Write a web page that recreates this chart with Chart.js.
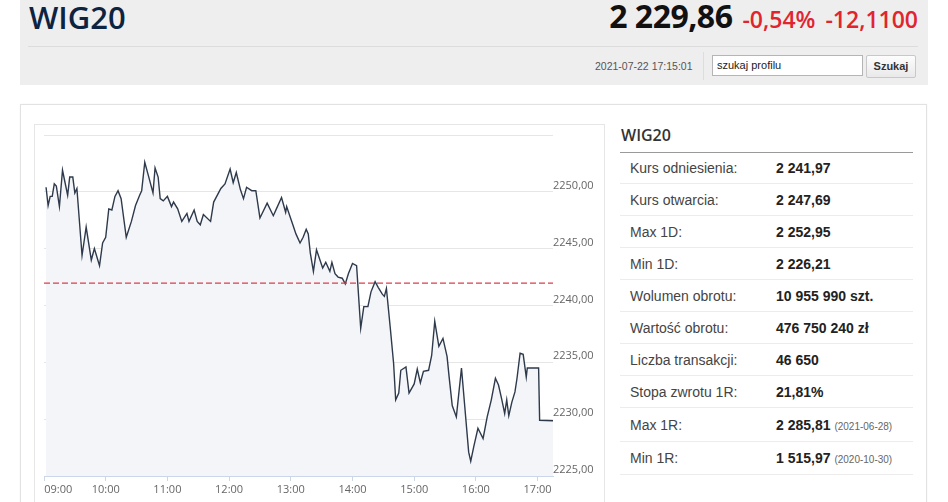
<!DOCTYPE html>
<html lang="pl">
<head>
<meta charset="utf-8">
<title>WIG20</title>
<script src="https://cdn.jsdelivr.net/npm/chart.js@4.4.1/dist/chart.umd.min.js"></script>
<style>
  html, body { margin: 0; padding: 0; background: #fff; width: 948px; height: 502px; overflow: hidden; }
  body { position: relative; font-family: "Liberation Sans", Arial, sans-serif; }

  .top { position: absolute; left: 20px; top: 0; width: 908px; height: 85px; background: #eeeeee; }
  .top .name { position: absolute; left: 9px; top: -4px; font: 600 31px "Open Sans", sans-serif; color: #0d2342; }
  .top .quote { position: absolute; right: 10px; top: -6px; white-space: nowrap; font-family: "Open Sans", sans-serif; }
  .quote .price { font-weight: 700; font-size: 32px; color: #111; letter-spacing: -0.5px; }
  .quote .chg { font-weight: 600; font-size: 23px; color: #e0252f; margin-left: 10px; }
  .top .rule { position: absolute; left: 8px; top: 46px; width: 890px; height: 1px; background: #dcdcdc; }
  .top .stamp { position: absolute; left: 575px; top: 60px; font-size: 10.5px; color: #555; }
  .top .sep { position: absolute; left: 683px; top: 52px; width: 1px; height: 28px; background: #dddddd; }
  .top .search { position: absolute; left: 692px; top: 55px; width: 145px; height: 19px; border: 1px solid #b5b5b5; background: #fff;
                 font-size: 11px; line-height: 19px; color: #222; padding-left: 4px; box-sizing: content-box; }
  .top .btn { position: absolute; left: 846px; top: 55px; width: 48px; height: 21px; border: 1px solid #c8c8c8; border-radius: 2px;
              background: linear-gradient(#fdfdfd, #e9e9e9); font-size: 11px; font-weight: 700; line-height: 21px; text-align: center; color: #333; }

  .box { position: absolute; left: 20px; top: 104px; width: 905px; height: 420px; border: 1px solid #e2e2e2; box-shadow: 0 0 2px rgba(0,0,0,0.05); }
  .panel { position: absolute; left: 34px; top: 124px; width: 569px; height: 400px; border: 1px solid #e6e6e6; }
  .chart-wrap { position: absolute; left: 35px; top: 125px; width: 568px; height: 377px; }

  .info { position: absolute; left: 620px; top: 124px; width: 293px; }
  .info .title { height: 29px; line-height: 27px; border-bottom: 1px solid #9a9a9a; padding-left: 1px;
                 font: 600 16px "Open Sans", sans-serif; color: #333; box-sizing: border-box; }
  .info .row { position: relative; border-bottom: 1px solid #ececec; box-sizing: border-box; font-size: 14px; }
  .info .row .k { position: absolute; left: 10px; color: #444; }
  .info .row .v { position: absolute; left: 156px; color: #222; font-weight: 700; }
  .info .row .v small { font-weight: 400; font-size: 10px; color: #666; }
</style>
</head>
<body>

<div class="top">
  <div class="name">WIG20</div>
  <div class="quote"><span class="price">2 229,86</span><span class="chg">-0,54%</span><span class="chg">-12,1100</span></div>
  <div class="rule"></div>
  <div class="stamp">2021-07-22 17:15:01</div>
  <div class="sep"></div>
  <div class="search">szukaj profilu</div>
  <div class="btn">Szukaj</div>
</div>

<div class="box"></div>
<div class="panel"></div>
<div class="chart-wrap"><canvas id="wigChart"></canvas></div>

<div class="info">
  <div class="title">WIG20</div>
  <div class="row" style="height:31px;line-height:31px"><span class="k">Kurs odniesienia:</span><span class="v">2 241,97</span></div>
  <div class="row" style="height:32px;line-height:32px"><span class="k">Kurs otwarcia:</span><span class="v">2 247,69</span></div>
  <div class="row" style="height:32px;line-height:32px"><span class="k">Max 1D:</span><span class="v">2 252,95</span></div>
  <div class="row" style="height:32px;line-height:32px"><span class="k">Min 1D:</span><span class="v">2 226,21</span></div>
  <div class="row" style="height:32px;line-height:32px"><span class="k">Wolumen obrotu:</span><span class="v">10 955 990 szt.</span></div>
  <div class="row" style="height:32px;line-height:32px"><span class="k">Wartość obrotu:</span><span class="v">476 750 240 zł</span></div>
  <div class="row" style="height:32px;line-height:32px"><span class="k">Liczba transakcji:</span><span class="v">46 650</span></div>
  <div class="row" style="height:32px;line-height:32px"><span class="k">Stopa zwrotu 1R:</span><span class="v">21,81%</span></div>
  <div class="row" style="height:34px;line-height:34px"><span class="k">Max 1R:</span><span class="v">2 285,81 <small>(2021-06-28)</small></span></div>
  <div class="row" style="height:33px;line-height:33px"><span class="k">Min 1R:</span><span class="v">1 515,97 <small>(2020-10-30)</small></span></div>
</div>

<script>
// minutes after 09:00 and index level
const minutes = [
    2, 4, 6, 8, 10, 12, 15, 18, 23, 25, 28, 30, 32, 37, 41, 46, 49, 54, 57, 60,
    63, 66, 69, 72, 75, 80, 85, 89, 93, 95, 98, 101, 106, 108, 111, 113, 116, 120, 124, 126,
    130, 134, 139, 141, 146, 149, 152, 155, 162, 165, 172, 176, 181, 184, 187, 191, 194, 197, 202, 206,
    210, 217, 223, 226, 231, 235, 236, 239, 242, 245, 249, 252, 255, 257, 259, 262, 265, 271, 274, 278,
    280, 283, 286, 290, 293, 296, 300, 304, 308, 311, 315, 318, 322, 325, 329, 331, 333, 337, 340, 342,
    345, 347, 352, 355, 360, 363, 366, 369, 374, 377, 380, 384, 388, 392, 394, 397, 401, 406, 411, 413,
    415, 418, 422, 427, 431, 435, 439, 442, 445, 448, 450, 452, 455, 458, 460, 463, 466, 469, 470, 481,
    482, 495
];
const values = [
    2250.4, 2248.8, 2249.6, 2249.6, 2250.7, 2250.5, 2248.7, 2251.9, 2249.7, 2251.3, 2251.3, 2249.9, 2250.3, 2244.4, 2246.9, 2244.0, 2245.0, 2243.5, 2245.5, 2246.0,
    2248.5, 2248.4, 2249.6, 2250.1, 2249.4, 2246.0, 2247.4, 2248.8, 2249.7, 2250.1, 2252.6, 2251.6, 2249.9, 2252.1, 2251.3, 2249.4, 2249.2, 2249.6, 2248.7, 2249.1,
    2248.5, 2247.4, 2248.1, 2247.4, 2248.4, 2247.4, 2247.1, 2248.0, 2247.4, 2249.1, 2250.3, 2250.7, 2252.0, 2250.8, 2251.7, 2250.2, 2249.4, 2250.4, 2250.1, 2250.1,
    2247.7, 2249.0, 2247.9, 2248.5, 2249.5, 2248.2, 2248.7, 2247.9, 2247.1, 2246.3, 2245.5, 2246.0, 2246.7, 2246.3, 2244.6, 2243.0, 2244.9, 2243.3, 2243.8, 2243.0,
    2243.8, 2242.8, 2242.5, 2242.4, 2241.9, 2242.8, 2243.7, 2243.5, 2238.0, 2239.9, 2239.9, 2241.2, 2242.1, 2241.6, 2241.0, 2240.8, 2241.5, 2237.8, 2234.9, 2231.7,
    2232.3, 2234.3, 2234.6, 2232.3, 2233.1, 2234.4, 2233.2, 2234.2, 2234.3, 2235.6, 2238.6, 2236.4, 2237.1, 2235.5, 2233.7, 2231.2, 2230.2, 2234.5, 2229.2, 2227.1,
    2226.3, 2227.6, 2229.2, 2228.3, 2230.2, 2231.7, 2233.6, 2233.0, 2231.8, 2230.5, 2231.7, 2230.3, 2231.5, 2232.4, 2233.6, 2235.8, 2235.7, 2233.7, 2234.5, 2234.5,
    2229.9, 2229.86
];

const referencePrice = 2241.97;   // Kurs odniesienia
const sessionStart = 0;
const sessionEnd = 495;           // 17:15
const hourTicks = [0, 60, 120, 180, 240, 300, 360, 420, 480];
const hourLabels = ['          09:00', '10:00', '11:00', '12:00', '13:00', '14:00', '15:00', '16:00', '17:00'];
const yMin = 2225;
const yMax = 2255;
const yStep = 5;

const points = minutes.map((m, i) => ({ x: m, y: values[i] }));
const refLine = [
    { x: sessionStart, y: referencePrice },
    { x: sessionEnd, y: referencePrice }
];

const tickFont = { family: 'Open Sans', size: 11 };

new Chart(document.getElementById('wigChart'), {
    type: 'line',
    data: {
        datasets: [
            {
                label: 'WIG20',
                data: points,
                borderColor: '#2e3a4b',
                borderWidth: 1.4,
                backgroundColor: '#f3f5f8',
                fill: 'start',
                pointRadius: 0,
                tension: 0,
                order: 2
            },
            {
                label: 'Kurs odniesienia',
                data: refLine,
                borderColor: '#dc3f4c',
                borderWidth: 1.1,
                borderDash: [6, 3],
                pointRadius: 0,
                fill: false,
                order: 1
            }
        ]
    },
    options: {
        responsive: true,
        maintainAspectRatio: false,
        animation: false,
        layout: { padding: { left: 9, top: 10, right: 0, bottom: 0 } },
        plugins: {
            legend: { display: false },
            tooltip: { enabled: false }
        },
        scales: {
            x: {
                type: 'linear',
                min: sessionStart,
                max: sessionEnd,
                afterBuildTicks: (scale) => { scale.ticks = hourTicks.map(v => ({ value: v })); },
                afterFit: (scale) => {
                    scale.height = 26;
                    scale.paddingLeft = 0;
                    scale.paddingRight = 0;
                },
                grid: { drawOnChartArea: false, drawTicks: true, tickLength: 5, color: '#ccd6eb' },
                border: { display: true, color: '#ccd6eb' },
                ticks: {
                    autoSkip: false,
                    maxRotation: 0,
                    padding: 2,
                    color: '#666',
                    font: tickFont,
                    callback: (value, index) => hourLabels[index]
                }
            },
            y: {
                position: 'right',
                min: yMin,
                max: yMax,
                afterFit: (scale) => {
                    scale.width = 50;
                    scale.paddingTop = 0;
                    scale.paddingBottom = 0;
                },
                grid: { color: '#e6e6e6', drawTicks: false },
                border: { display: false },
                ticks: {
                    stepSize: yStep,
                    padding: 0,
                    labelOffset: -6,
                    color: '#666',
                    font: tickFont,
                    callback: (value) => value >= yMax ? '' : value.toFixed(2).replace('.', ',')
                }
            }
        }
    }
});
</script>
</body>
</html>
